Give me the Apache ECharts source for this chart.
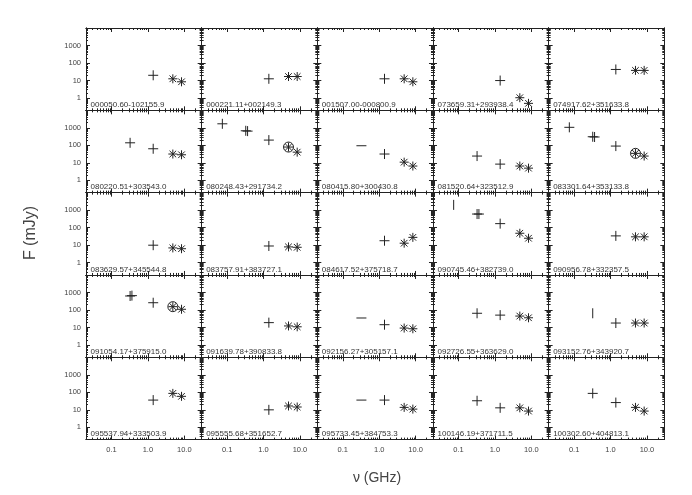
<!DOCTYPE html>
<html>
<head>
<meta charset="utf-8">
<script src="https://cdn.jsdelivr.net/npm/echarts@6/dist/echarts.min.js"></script>
<style>
    html, body { margin: 0; padding: 0; background: #fff; }
    #chart { width: 692px; height: 495px; }
</style>
</head>
<body>
<div id="chart"></div>
<script>
// one entry per panel, row by row
var names = [
    '000050.60-102155.9', '000221.11+002149.3', '001507.00-000800.9', '073659.31+293938.4', '074917.62+351633.8',
    '080220.51+303543.0', '080248.43+291734.2', '080415.80+300430.8', '081520.64+323512.9', '083301.64+353133.8',
    '083629.57+345544.8', '083757.91+383727.1', '084617.52+375718.7', '090745.46+382739.0', '090956.78+332357.5',
    '091054.17+375915.0', '091639.78+390833.8', '092156.27+305157.1', '092726.55+363629.0', '093152.76+343920.7',
    '095537.94+333503.9', '095555.68+351652.7', '095733.45+384753.3', '100146.19+371711.5', '100302.60+404813.1'
];

// frequencies (GHz)
var freqs = [
    [1.4, 4.85, 8.4], [1.4, 4.85, 8.4], [1.4, 4.85, 8.4], [1.4, 4.85, 8.4], [1.4, 4.85, 8.4],
    [0.325, 1.4, 4.85, 8.4], [0.074, 0.325, 0.365, 1.4, 4.85, 8.4], [0.325, 1.4, 4.85, 8.4], [0.325, 1.4, 4.85, 8.4], [0.074, 0.325, 0.365, 1.4, 4.85, 8.4],
    [1.4, 4.85, 8.4], [1.4, 4.85, 8.4], [1.4, 4.85, 8.4], [0.074, 0.325, 0.365, 1.4, 4.85, 8.4], [1.4, 4.85, 8.4],
    [0.325, 0.365, 1.4, 4.85, 8.4], [1.4, 4.85, 8.4], [0.325, 1.4, 4.85, 8.4], [0.325, 1.4, 4.85, 8.4], [0.325, 1.4, 4.85, 8.4],
    [1.4, 4.85, 8.4], [1.4, 4.85, 8.4], [0.325, 1.4, 4.85, 8.4], [0.325, 1.4, 4.85, 8.4], [0.325, 1.4, 4.85, 8.4]
];

// flux densities (mJy)
var fluxes = [
    [20, 12.6, 8.5], [12.6, 17, 17], [12.6, 12.6, 8.5], [10, 1.05, 0.5], [43, 38, 38],
    [140, 64, 32, 29], [1700, 680, 650, 200, 80, 41], [95, 32, 11, 6.6], [24.5, 8.5, 6.6, 5], [1070, 310, 300, 91, 35, 24.5],
    [10, 7, 6.3], [9, 8, 7.6], [18, 13, 28], [2000, 600, 600, 170, 48, 25], [34, 30, 30],
    [630, 660, 260, 155, 110], [19, 12.3, 11], [35, 14.5, 9.3, 8.5], [65, 51, 45, 36], [65, 18, 18, 18],
    [36, 87, 59], [10, 16.6, 14.5], [36, 36, 13.8, 11], [33, 13, 13, 8.5], [87, 26, 13.8, 8.5]
];

// symbol per point: p plus, s asterisk, c circled asterisk, d dash, b bar
var marks = [
    ['p', 's', 's'], ['p', 's', 's'], ['p', 's', 's'], ['p', 's', 's'], ['p', 's', 's'],
    ['p', 'p', 's', 's'], ['p', 'p', 'p', 'p', 'c', 's'], ['d', 'p', 's', 's'], ['p', 'p', 's', 's'], ['p', 'p', 'p', 'p', 'c', 's'],
    ['p', 's', 's'], ['p', 's', 's'], ['p', 's', 's'], ['b', 'p', 'p', 'p', 's', 's'], ['p', 's', 's'],
    ['p', 'p', 'p', 'c', 's'], ['p', 's', 's'], ['d', 'p', 's', 's'], ['p', 'p', 's', 's'], ['b', 'p', 's', 's'],
    ['p', 's', 's'], ['p', 's', 's'], ['d', 'p', 's', 's'], ['p', 'p', 's', 's'], ['p', 'p', 's', 's']
];

var xMajor = [0.1, 1, 10];
var xMinor = [0.03, 0.04, 0.05, 0.06, 0.07, 0.08, 0.09, 0.2, 0.3, 0.4, 0.5, 0.6, 0.7, 0.8, 0.9,
    2, 3, 4, 5, 6, 7, 8, 9, 20];
var yMajor = [1, 10, 100, 1000];
var yMinor = [0.3, 0.4, 0.5, 0.6, 0.7, 0.8, 0.9, 2, 3, 4, 5, 6, 7, 8, 9,
    20, 30, 40, 50, 60, 70, 80, 90, 200, 300, 400, 500, 600, 700, 800, 900,
    2000, 3000, 4000, 5000, 6000, 7000, 8000, 9000];

var X0 = 86, Y0 = 28, PW = 115.66, PH = 82.32;
var FONT = 'Liberation Sans';
var INK = '#222';

function fmtX(v) {
    var l = Math.log10(v);
    if (Math.abs(l - Math.round(l)) > 1e-6 || l < -1.01 || l > 1.01) return '';
    return v < 1 ? '0.1' : v.toFixed(1);
}
function fmtY(v) {
    var l = Math.log10(v);
    if (Math.abs(l - Math.round(l)) > 1e-6 || l < -0.01 || l > 3.01) return '';
    return String(Math.round(v));
}

function makeAxis(dim, i, pos, ticks, len, withLabels, useCustom) {
    var ax = {
        type: 'log',
        gridIndex: i,
        position: pos,
        min: dim == 'x' ? 0.02 : 0.2,
        max: dim == 'x' ? 30 : 10000,
        axisLine: { show: true, onZero: false, lineStyle: { color: INK, width: 1 } },
        axisTick: { show: true, inside: true, length: len, lineStyle: { color: INK, width: 1 } },
        minorTick: { show: false },
        splitLine: { show: false },
        axisLabel: { show: false }
    };
    if (useCustom) ax.axisTick.customValues = ticks;
    if (withLabels) {
        ax.axisLabel = {
            show: true,
            formatter: dim == 'x' ? fmtX : fmtY,
            fontSize: 7.5,
            fontFamily: FONT,
            color: '#444',
            margin: dim == 'x' ? 6 : 5
        };
        if (useCustom) ax.axisLabel.customValues = dim == 'x' ? xMajor : yMajor;
    }
    return ax;
}

function markShape(kind, x, y) {
    var L = function (x1, y1, x2, y2) {
        return { type: 'line', shape: { x1: x1, y1: y1, x2: x2, y2: y2 }, style: { stroke: INK, lineWidth: 1 } };
    };
    var out = [];
    if (kind == 'p') {
        out.push(L(x - 5, y, x + 5, y), L(x, y - 5, x, y + 5));
    } else if (kind == 'd') {
        out.push(L(x - 5, y, x + 5, y));
    } else if (kind == 'b') {
        out.push(L(x, y - 5, x, y + 5));
    } else {
        var a = 4.5, b = 3.3;
        out.push(L(x - a, y, x + a, y), L(x, y - a, x, y + a), L(x - b, y - b, x + b, y + b), L(x - b, y + b, x + b, y - b));
        if (kind == 'c') {
            out.push({ type: 'circle', shape: { cx: x, cy: y, r: 5 }, style: { stroke: INK, lineWidth: 1, fill: 'transparent' } });
        }
    }
    return out;
}

// level 2: major + minor ticks on all sides, 1: major only via customValues, 0: library ticks
function buildOption(level) {
    var grids = [], xAxes = [], yAxes = [], series = [], graphics = [];
    var per = level == 2 ? 4 : 2;
    for (var i = 0; i < 25; i++) {
        var row = Math.floor(i / 5), col = i % 5;
        var left = X0 + col * PW, top = Y0 + row * PH;
        grids.push({ left: left, top: top, width: PW, height: PH });

        var custom = level > 0;
        xAxes.push(makeAxis('x', i, 'bottom', xMajor, 4, row == 4, custom));
        xAxes.push(makeAxis('x', i, 'top', xMajor, 4, false, custom));
        yAxes.push(makeAxis('y', i, 'left', yMajor, 4, col == 0, custom));
        yAxes.push(makeAxis('y', i, 'right', yMajor, 4, false, custom));
        if (level == 2) {
            xAxes.push(makeAxis('x', i, 'bottom', xMinor, 2, false, true));
            xAxes.push(makeAxis('x', i, 'top', xMinor, 2, false, true));
            yAxes.push(makeAxis('y', i, 'left', yMinor, 2, false, true));
            yAxes.push(makeAxis('y', i, 'right', yMinor, 2, false, true));
        }

        (function (k) {
            series.push({
                type: 'custom',
                coordinateSystem: 'cartesian2d',
                xAxisIndex: k * per,
                yAxisIndex: k * per,
                silent: true,
                data: freqs[k].map(function (f, j) { return [f, fluxes[k][j]]; }),
                renderItem: function (params, api) {
                    var p = api.coord([api.value(0), api.value(1)]);
                    return { type: 'group', children: markShape(marks[k][params.dataIndex], p[0], p[1]) };
                }
            });
        })(i);

        graphics.push({
            type: 'text',
            x: left + 4.5,
            y: top + PH - 5.5,
            silent: true,
            style: { text: names[i], fontSize: 8, fontFamily: FONT, fill: '#333', align: 'left', verticalAlign: 'middle' }
        });
    }

    graphics.push({
        type: 'text', x: 31, y: 233, rotation: Math.PI / 2, silent: true,
        style: { text: 'F (mJy)', fontSize: 16, fontFamily: FONT, fill: '#444', align: 'center', verticalAlign: 'middle' }
    });
    graphics.push({
        type: 'text', x: 377, y: 478, silent: true,
        style: { text: 'ν (GHz)', fontSize: 14, fontFamily: FONT, fill: '#444', align: 'center', verticalAlign: 'middle' }
    });

    return {
        backgroundColor: '#fff',
        animation: false,
        grid: grids,
        xAxis: xAxes,
        yAxis: yAxes,
        series: series,
        graphic: graphics
    };
}

var dom = document.getElementById('chart');
for (var level = 2; level >= 0; level--) {
    var chart = echarts.init(dom);
    try {
        chart.setOption(buildOption(level));
        chart.getZr().flush();
        break;
    } catch (e) {
        chart.dispose();
    }
}
</script>
</body>
</html>
